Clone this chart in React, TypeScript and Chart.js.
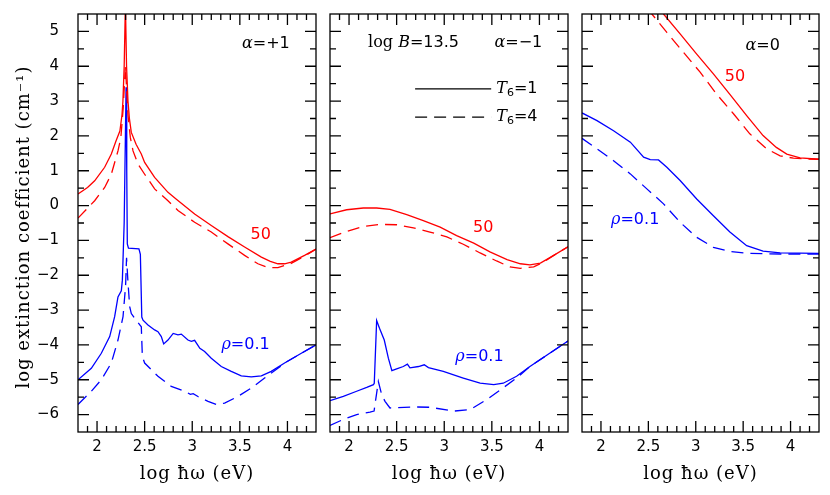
import React, { useEffect, useRef } from "react";
import { Chart, registerables } from "chart.js";

Chart.register(...registerables);

type Pt = [number, number];

const X_MIN = 1.8;
const X_MAX = 4.3;
const Y_MIN = -6.5;
const Y_MAX = 5.5;
const xTickValues = [2, 2.5, 3, 3.5, 4];
const yTickValues = [-6, -5, -4, -3, -2, -1, 0, 1, 2, 3, 4, 5];

const RED = "#ff0000";
const BLUE = "#0000ff";

// ---------- alpha = +1 ----------
const plusRho50T1: Pt[] = [
  [1.8, 0.33], [1.9, 0.52], [1.975, 0.71], [2.08, 1.1], [2.15, 1.48], [2.2, 1.86], [2.24, 2.14],
  [2.262, 2.6], [2.272, 3.0], [2.285, 4.0], [2.298, 5.8], [2.31, 4.0], [2.325, 3.0], [2.34, 2.5],
  [2.36, 2.1], [2.41, 1.76], [2.445, 1.58], [2.465, 1.48], [2.5, 1.24], [2.605, 0.81], [2.745, 0.38],
  [2.83, 0.19], [3.025, -0.24], [3.2, -0.57], [3.375, -0.89], [3.55, -1.19], [3.726, -1.48],
  [3.82, -1.6], [3.9, -1.67], [3.97, -1.67], [4.04, -1.62], [4.18, -1.43], [4.3, -1.25],
];
const plusRho50T4: Pt[] = [
  [1.8, -0.36], [1.975, 0.14], [2.08, 0.52], [2.15, 0.9], [2.22, 1.57], [2.25, 1.95], [2.275, 2.8],
  [2.29, 3.6], [2.298, 4.0], [2.31, 3.4], [2.325, 2.6], [2.35, 1.95], [2.378, 1.57], [2.43, 1.19],
  [2.5, 0.9], [2.605, 0.48], [2.745, 0.14], [2.85, -0.14], [3.025, -0.48], [3.2, -0.76],
  [3.375, -1.1], [3.55, -1.43], [3.69, -1.67], [3.796, -1.78], [3.9, -1.78], [4.04, -1.66],
  [4.18, -1.45], [4.3, -1.25],
];
const plusRho01T1: Pt[] = [
  [1.8, -5.0], [1.94, -4.67], [2.045, -4.24], [2.133, -3.76], [2.185, -3.19], [2.22, -2.62],
  [2.255, -2.45], [2.266, -2.14], [2.285, -0.5], [2.305, 3.4], [2.312, 1.0], [2.318, -1.1],
  [2.33, -1.22], [2.44, -1.24], [2.455, -1.4], [2.47, -3.2], [2.483, -3.29], [2.535, -3.43],
  [2.605, -3.57], [2.64, -3.62], [2.675, -3.76], [2.7, -3.97], [2.745, -3.86], [2.8, -3.67],
  [2.85, -3.71], [2.885, -3.69], [2.955, -3.86], [2.99, -3.9], [3.025, -3.87], [3.08, -4.1],
  [3.13, -4.19], [3.2, -4.38], [3.305, -4.62], [3.41, -4.76], [3.515, -4.89], [3.62, -4.92],
  [3.726, -4.89], [3.83, -4.76], [3.97, -4.52], [4.146, -4.24], [4.3, -4.0],
];
const plusRho01T4: Pt[] = [
  [1.8, -5.71], [1.94, -5.33], [2.045, -5.0], [2.15, -4.52], [2.22, -3.86], [2.273, -3.19],
  [2.3, -2.3], [2.31, -1.5], [2.325, -2.2], [2.343, -2.9], [2.36, -3.1], [2.41, -3.29],
  [2.465, -3.48], [2.476, -4.33], [2.5, -4.52], [2.64, -4.9], [2.78, -5.19], [2.92, -5.33],
  [2.98, -5.42], [3.01, -5.4], [3.06, -5.48], [3.166, -5.62], [3.253, -5.71], [3.34, -5.67],
  [3.48, -5.48], [3.62, -5.24], [3.76, -4.95], [3.9, -4.67], [3.97, -4.52], [4.146, -4.24], [4.3, -4.0],
];

// ---------- alpha = -1 ----------
const minusRho50T1: Pt[] = [
  [1.8, -0.24], [1.975, -0.12], [2.15, -0.07], [2.29, -0.07], [2.43, -0.11], [2.606, -0.26],
  [2.78, -0.43], [2.957, -0.62], [3.13, -0.86], [3.31, -1.08], [3.48, -1.33], [3.66, -1.55],
  [3.8, -1.67], [3.9, -1.7], [4.01, -1.65], [4.15, -1.43], [4.3, -1.18],
];
const minusRho50T4: Pt[] = [
  [1.8, -0.92], [1.975, -0.74], [2.15, -0.6], [2.33, -0.54], [2.5, -0.55], [2.676, -0.64],
  [2.85, -0.76], [3.027, -0.9], [3.2, -1.11], [3.377, -1.36], [3.55, -1.59], [3.69, -1.76],
  [3.8, -1.8], [3.94, -1.76], [4.04, -1.63], [4.15, -1.43], [4.3, -1.18],
];
const minusRho01T1: Pt[] = [
  [1.8, -5.6], [1.94, -5.48], [2.08, -5.33], [2.186, -5.22], [2.256, -5.14], [2.265, -5.1],
  [2.29, -3.3], [2.32, -3.52], [2.37, -3.86], [2.413, -4.38], [2.45, -4.74], [2.5, -4.69],
  [2.57, -4.62], [2.613, -4.55], [2.64, -4.66], [2.73, -4.62], [2.79, -4.57], [2.834, -4.65],
  [2.99, -4.76], [3.2, -4.95], [3.377, -5.1], [3.52, -5.14], [3.62, -5.1], [3.76, -4.9],
  [3.9, -4.62], [4.08, -4.29], [4.3, -3.89],
];
const minusRho01T4: Pt[] = [
  [1.8, -6.31], [1.94, -6.14], [2.08, -6.0], [2.22, -5.93], [2.263, -5.9], [2.28, -5.57],
  [2.308, -5.05], [2.343, -5.43], [2.378, -5.62], [2.43, -5.81], [2.676, -5.78], [2.85, -5.79],
  [3.1, -5.9], [3.27, -5.86], [3.447, -5.57], [3.59, -5.29], [3.76, -4.95], [3.9, -4.62],
  [4.08, -4.29], [4.3, -3.89],
];

// ---------- alpha = 0 ----------
const zeroRho50T1: Pt[] = [
  [2.62, 5.65], [2.66, 5.5], [2.835, 4.93], [3.01, 4.35], [3.186, 3.78], [3.36, 3.19],
  [3.537, 2.58], [3.71, 2.01], [3.85, 1.67], [3.96, 1.48], [4.1, 1.37], [4.3, 1.33],
];
const zeroRho50T4: Pt[] = [
  [2.49, 5.65], [2.537, 5.5], [2.695, 4.97], [2.87, 4.4], [3.046, 3.83], [3.22, 3.2],
  [3.4, 2.63], [3.57, 2.06], [3.747, 1.63], [3.89, 1.43], [4.03, 1.36], [4.15, 1.34], [4.3, 1.33],
];
const zeroRho01T1: Pt[] = [
  [1.8, 2.66], [1.958, 2.44], [2.133, 2.15], [2.31, 1.82], [2.45, 1.39], [2.52, 1.32],
  [2.607, 1.31], [2.695, 1.1], [2.835, 0.72], [3.01, 0.19], [3.186, -0.29], [3.36, -0.76],
  [3.537, -1.15], [3.71, -1.31], [3.89, -1.36], [4.3, -1.37],
];
const zeroRho01T4: Pt[] = [
  [1.8, 1.93], [1.958, 1.63], [2.133, 1.29], [2.31, 0.91], [2.484, 0.48], [2.66, 0.05],
  [2.835, -0.48], [3.01, -0.91], [3.186, -1.2], [3.36, -1.32], [3.537, -1.37], [3.89, -1.39], [4.3, -1.39],
];

const SANS = '"DejaVu Sans"';
const SERIF = '"DejaVu Serif"';

type Seg = { t: string; font: string; dy?: number };
type Note = { segs: Seg[]; x: number; y: number; align: "left" | "right" | "center"; color: string };
type Series = { data: Pt[]; color: string; dashed: boolean };
type Panel = {
  id: string; left: number; right: number; showY: boolean;
  series: Series[]; notes: Note[]; legend: boolean;
};

const alphaNote = (val: string, x: number, y: number): Note => ({
  segs: [{ t: "α", font: `italic 16px ${SERIF}` }, { t: "=" + val, font: `16px ${SANS}` }],
  x, y, align: "right", color: "#000",
});
const num = (t: string, x: number, y: number, color: string): Note => ({
  segs: [{ t, font: `16px ${SANS}` }], x, y, align: "center", color,
});
const rhoNote = (x: number, y: number): Note => ({
  segs: [{ t: "ρ", font: `italic 16px ${SERIF}` }, { t: "=0.1", font: `16px ${SANS}` }],
  x, y, align: "center", color: BLUE,
});

const PANELS: Panel[] = [
  {
    id: "p1", left: 78, right: 316, showY: true, legend: false,
    series: [
      { data: plusRho50T1, color: RED, dashed: false },
      { data: plusRho50T4, color: RED, dashed: true },
      { data: plusRho01T1, color: BLUE, dashed: false },
      { data: plusRho01T4, color: BLUE, dashed: true },
    ],
    notes: [alphaNote("+1", 4.024, 4.64), num("50", 3.72, -0.84, RED), rhoNote(3.56, -4.0)],
  },
  {
    id: "p2", left: 330, right: 568, showY: false, legend: true,
    series: [
      { data: minusRho50T1, color: RED, dashed: false },
      { data: minusRho50T4, color: RED, dashed: true },
      { data: minusRho01T1, color: BLUE, dashed: false },
      { data: minusRho01T4, color: BLUE, dashed: true },
    ],
    notes: [
      {
        segs: [
          { t: "log ", font: `16px ${SERIF}` },
          { t: "B", font: `italic 16px ${SERIF}` },
          { t: "=13.5", font: `16px ${SANS}` },
        ],
        x: 2.2, y: 4.66, align: "left", color: "#000",
      },
      alphaNote("−1", 4.03, 4.66),
      num("50", 3.41, -0.64, RED),
      rhoNote(3.37, -4.34),
    ],
  },
  {
    id: "p3", left: 582, right: 819, showY: false, legend: false,
    series: [
      { data: zeroRho50T1, color: RED, dashed: false },
      { data: zeroRho50T4, color: RED, dashed: true },
      { data: zeroRho01T1, color: BLUE, dashed: false },
      { data: zeroRho01T4, color: BLUE, dashed: true },
    ],
    notes: [alphaNote("0", 3.887, 4.6), num("50", 3.414, 3.69, RED), rhoNote(2.361, -0.41)],
  },
];

const TOP = 14;
const BOTTOM = 432;
const DASH = [12, 7];
const Y_AXIS_W = 70;
const X_AXIS_H = 40;

function fmt(v: number): string {
  return v < 0 ? "−" + String(Math.abs(v)) : String(v);
}

function drawSegs(ctx: CanvasRenderingContext2D, segs: Seg[], x: number, y: number, align: string, color: string) {
  let total = 0;
  for (const s of segs) {
    ctx.font = s.font;
    total += ctx.measureText(s.t).width;
  }
  let cx = align === "left" ? x : align === "right" ? x - total : x - total / 2;
  ctx.fillStyle = color;
  ctx.textBaseline = "middle";
  ctx.textAlign = "left";
  for (const s of segs) {
    ctx.font = s.font;
    ctx.fillText(s.t, cx, y + (s.dy || 0));
    cx += ctx.measureText(s.t).width;
  }
}

function decor(p: Panel, first: boolean) {
  return {
    id: "decor_" + p.id,
    afterDraw(chart: any) {
      const { ctx, chartArea: a } = chart;
      const xs = chart.scales.x;
      const ys = chart.scales.y;
      ctx.save();
      ctx.strokeStyle = "#000";
      ctx.lineWidth = 1.3;
      ctx.setLineDash([]);
      ctx.strokeRect(a.left, a.top, a.right - a.left, a.bottom - a.top);
      ctx.beginPath();
      for (let k = 19; k <= 42; k++) {
        const px = xs.getPixelForValue(k / 10);
        const L = k % 5 === 0 ? 11 : 6;
        ctx.moveTo(px, a.bottom);
        ctx.lineTo(px, a.bottom - L);
        ctx.moveTo(px, a.top);
        ctx.lineTo(px, a.top + L);
      }
      for (let k = -12; k <= 10; k++) {
        const py = ys.getPixelForValue(k / 2);
        const L = k % 2 === 0 ? 11 : 6;
        ctx.moveTo(a.left, py);
        ctx.lineTo(a.left + L, py);
        ctx.moveTo(a.right, py);
        ctx.lineTo(a.right - L, py);
      }
      ctx.stroke();

      for (const n of p.notes) {
        drawSegs(ctx, n.segs, xs.getPixelForValue(n.x), ys.getPixelForValue(n.y), n.align, n.color);
      }

      if (p.legend) {
        const x0 = xs.getPixelForValue(2.694);
        const x1 = xs.getPixelForValue(3.493);
        const rows: [number, string, boolean][] = [[3.35, "1", false], [2.54, "4", true]];
        for (const [yv, val, dashed] of rows) {
          const py = ys.getPixelForValue(yv);
          ctx.strokeStyle = "#000";
          ctx.lineWidth = 1.3;
          ctx.setLineDash(dashed ? DASH : []);
          ctx.beginPath();
          ctx.moveTo(x0, py);
          ctx.lineTo(x1, py);
          ctx.stroke();
          ctx.setLineDash([]);
          drawSegs(ctx, [
            { t: "T", font: `italic 16px ${SERIF}` },
            { t: "6", font: `11px ${SANS}`, dy: 4 },
            { t: "=" + val, font: `16px ${SANS}` },
          ], xs.getPixelForValue(3.546), py, "left", "#000");
        }
      }

      ctx.fillStyle = "#000";
      ctx.font = `18px ${SERIF}`;
      (ctx as any).letterSpacing = "1px";
      ctx.textAlign = "center";
      ctx.textBaseline = "middle";
      ctx.fillText("log ħω (eV)", (a.left + a.right) / 2, 474);
      if (first) {
        ctx.save();
        ctx.translate(24, 227);
        ctx.rotate(-Math.PI / 2);
        ctx.fillText("log extinction coefficient (cm⁻¹)", 0, 0);
        ctx.restore();
      }
      (ctx as any).letterSpacing = "0px";
      ctx.restore();
    },
  };
}

function makeConfig(p: Panel, first: boolean): any {
  const yW = p.showY ? Y_AXIS_W : 0;
  return {
    type: "line",
    data: {
      datasets: p.series.map((s) => ({
        data: s.data.map(([x, y]) => ({ x, y })),
        borderColor: s.color,
        borderWidth: 1.3,
        borderDash: s.dashed ? DASH : [],
        pointRadius: 0,
        fill: false,
        tension: 0,
      })),
    },
    options: {
      animation: false,
      responsive: false,
      events: [],
      layout: { padding: { left: p.left - yW, right: 830 - p.right, top: TOP, bottom: 495 - BOTTOM - X_AXIS_H } },
      plugins: { legend: { display: false }, tooltip: { enabled: false } },
      scales: {
        x: {
          type: "linear",
          min: X_MIN,
          max: X_MAX,
          grid: { display: false },
          border: { display: false },
          afterBuildTicks: (s: any) => { s.ticks = xTickValues.map((v) => ({ value: v })); },
          afterFit: (s: any) => { s.height = X_AXIS_H; s.paddingLeft = 0; s.paddingRight = 0; },
          ticks: {
            padding: -2,
            autoSkip: false,
            maxRotation: 0,
            color: "#000",
            font: { family: "DejaVu Sans", size: 15 },
            callback: (v: any) => fmt(Number(v)),
          },
        },
        y: {
          type: "linear",
          min: Y_MIN,
          max: Y_MAX,
          grid: { display: false },
          border: { display: false },
          afterBuildTicks: (s: any) => { s.ticks = yTickValues.map((v) => ({ value: v })); },
          afterFit: (s: any) => { s.width = yW; s.paddingTop = 0; s.paddingBottom = 0; },
          ticks: {
            display: p.showY,
            padding: 11,
            autoSkip: false,
            color: "#000",
            font: { family: "DejaVu Sans", size: 15 },
            callback: (v: any) => fmt(Number(v)),
          },
        },
      },
    },
    plugins: [decor(p, first)],
  };
}

export default function App() {
  const r0 = useRef<HTMLCanvasElement>(null);
  const r1 = useRef<HTMLCanvasElement>(null);
  const r2 = useRef<HTMLCanvasElement>(null);
  const refs = [r0, r1, r2];

  useEffect(() => {
    const charts = PANELS.map((p, i) => new Chart(refs[i].current as HTMLCanvasElement, makeConfig(p, i === 0)));
    return () => charts.forEach((c) => c.destroy());
  }, []);

  return (
    <div style={{ position: "absolute", left: 0, top: 0, width: 830, height: 495, background: "#fff" }}>
      {PANELS.map((p, i) => (
        <canvas
          key={p.id}
          ref={refs[i]}
          width={830}
          height={495}
          style={{ position: "absolute", left: 0, top: 0, width: 830, height: 495 }}
        />
      ))}
    </div>
  );
}
